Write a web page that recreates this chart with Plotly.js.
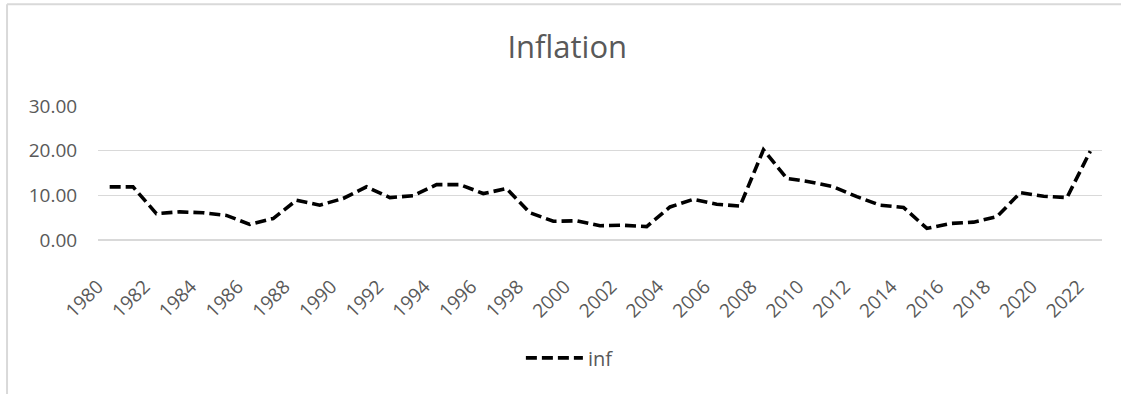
<!DOCTYPE html>
<html>
<head>
<meta charset="utf-8">
<script src="https://cdn.plot.ly/plotly-3.0.1.min.js"></script>
<style>
  html, body { margin: 0; padding: 0; background: #ffffff; }
  #chart { width: 1121px; height: 394px; }
</style>
</head>
<body>
<div id="chart"></div>
<script>
// Annual inflation, 1980-2022
const years = ['1980','1981','1982','1983','1984','1985','1986','1987','1988','1989',
               '1990','1991','1992','1993','1994','1995','1996','1997','1998','1999',
               '2000','2001','2002','2003','2004','2005','2006','2007','2008','2009',
               '2010','2011','2012','2013','2014','2015','2016','2017','2018','2019',
               '2020','2021','2022'];
const inf = [11.9, 11.9, 5.9, 6.3, 6.1, 5.5, 3.5, 4.8, 8.9, 7.8,
             9.3, 11.9, 9.5, 9.9, 12.4, 12.4, 10.4, 11.5, 6.1, 4.2,
             4.3, 3.2, 3.3, 3.0, 7.4, 9.1, 8.0, 7.6, 20.2, 13.8,
             13.0, 11.9, 9.7, 7.8, 7.3, 2.6, 3.7, 4.0, 5.2, 10.6,
             9.8, 9.5, 19.9];
// every second year is labelled
const yearTicks = years.filter((y, i) => i % 2 === 0);
const yTicks = [0, 10, 20, 30];

const grey = '#595959';
const gridGrey = '#d9d9d9';
const fontFamily = '"Open Sans", "Liberation Sans", sans-serif';

const trace = {
  type: 'scatter',
  mode: 'lines',
  name: 'inf',
  x: years,
  y: inf,
  line: { color: '#000000', width: 3.6, dash: '11px,5px' },
  hoverinfo: 'x+y'
};

const layout = {
  width: 1121,
  height: 394,
  margin: { l: 98, r: 19, t: 106, b: 154 },
  paper_bgcolor: '#ffffff',
  plot_bgcolor: '#ffffff',
  font: { family: fontFamily, color: grey, size: 19 },
  title: {
    text: 'Inflation',
    font: { family: fontFamily, size: 31, color: grey },
    x: 0.506, xanchor: 'center',
    y: 0.88, yanchor: 'middle',
    yref: 'container'
  },
  xaxis: {
    type: 'category',
    // points sit in the middle of each year slot
    range: [-0.5, years.length - 0.5],
    tickmode: 'array',
    tickvals: yearTicks,
    ticktext: yearTicks,
    tickangle: -45,
    ticks: 'outside',
    ticklen: 27,
    tickcolor: 'rgba(0,0,0,0)',
    ticklabelshift: -12,
    showgrid: false,
    showline: false,
    zeroline: false,
    tickfont: { family: fontFamily, size: 19, color: grey },
    fixedrange: true
  },
  yaxis: {
    range: [0, 30],
    tickmode: 'array',
    tickvals: yTicks,
    ticktext: yTicks.map(v => v.toFixed(2)),
    showgrid: true,
    gridcolor: gridGrey,
    gridwidth: 1.5,
    zeroline: true,
    zerolinecolor: gridGrey,
    zerolinewidth: 1.5,
    showline: false,
    ticks: 'outside',
    ticklen: 16,
    tickcolor: 'rgba(0,0,0,0)',
    tickfont: { family: fontFamily, size: 19, color: grey },
    fixedrange: true
  },
  showlegend: true,
  legend: {
    orientation: 'h',
    x: 0.47, xanchor: 'center',
    y: -0.88, yanchor: 'middle',
    font: { family: fontFamily, size: 20, color: grey },
    itemwidth: 57,
    bgcolor: 'rgba(0,0,0,0)'
  },
  // light frame around the chart area
  shapes: [
    { type: 'line', xref: 'paper', yref: 'paper',
      x0: -0.0906, x1: 1.3, y0: 1.759, y1: 1.759,
      line: { color: gridGrey, width: 2 } },
    { type: 'line', xref: 'paper', yref: 'paper',
      x0: -0.0906, x1: -0.0906, y0: 1.759, y1: -1.5,
      line: { color: gridGrey, width: 2 } }
  ]
};

Plotly.newPlot('chart', [trace], layout, { displayModeBar: false, staticPlot: true });
</script>
</body>
</html>
